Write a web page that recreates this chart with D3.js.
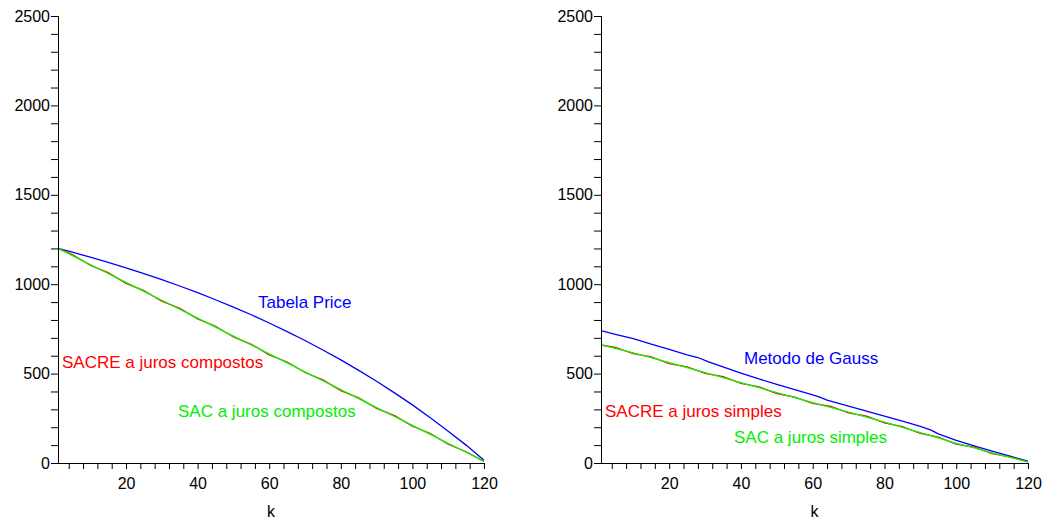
<!DOCTYPE html>
<meta charset="utf-8">
<script src="https://d3js.org/d3.v7.min.js"></script>
<style>
  body { margin: 0; background: #fff; }
  text { font-family: "Liberation Sans", Arial, sans-serif; }
</style>
<body>
<svg id="chart" width="1042" height="521"></svg>
<script>
  // k values where the curves were read
  var kSteps = [1,5,10,15,20,25,30,35,40,45,50,55,60,65,70,75,80,85,90,95,100,105,110,115,120];

  // left panel: juros compostos
  var priceL  = [1200,1179,1151,1122,1091,1059,1026,990,953,913,872,829,783,735,685,632,577,518,457,392,325,253,178,100,16];
  var sacL    = [1200,1160,1110,1060,1010,960,910,860,810,760,710,660,610,560,510,460,410,360,310,260,210,160,110,60,9];
  var sacreL  = [1200,1165,1106,1065,1005,964,905,865,806,765,705,664,605,565,506,465,405,364,305,265,206,165,105,63,9];

  // right panel: juros simples
  var kGauss  = [1,5,10,15,20,25,28,31,35,40,45,50,55,60,62,64,70,75,80,85,90,93,95,100,105,110,115,120];
  var gaussR  = [741,720,695,665,635,605,590,566,537,503,470,440,410,381,368,352,318,290,262,234,205,184,163,127,96,67,38,10];
  var sacR    = [660,641,616,589,561,534,506,478,449,421,393,365,338,311,284,257,229,199,170,140,110,84,57,31,6];
  var sacreR  = [660,646,612,594,556,538,501,483,445,426,388,369,333,316,280,262,224,203,165,145,106,89,52,34,6];

  var yTicks = d3.range(0, 2501, 100);
  var xTicks = d3.range(4, 121, 4);

  var svg = d3.select("#chart");

  function zip(ks, vs) {
    return ks.map(function(k, i) { return [k, vs[i]]; });
  }

  function panel(x0, x1, series, labels) {
    var x = d3.scaleLinear().domain([1, 120]).range([x0, x1]);
    var y = d3.scaleLinear().domain([0, 2500]).range([463, 16]);
    var g = svg.append("g");

    var line = d3.line()
      .x(function(d) { return x(d[0]); })
      .y(function(d) { return y(d[1]); });

    series.forEach(function(s) {
      g.append("path")
        .attr("d", line(s.data))
        .attr("fill", "none")
        .attr("stroke", s.color)
        .attr("stroke-width", 1.3);
    });

    var xAxis = g.append("g")
      .attr("transform", "translate(0,463)")
      .call(d3.axisBottom(x).tickValues(xTicks).tickSize(6).tickPadding(9)
        .tickFormat(function(d) { return d % 20 == 0 ? d : ""; }));
    xAxis.select(".domain").attr("d", "M" + x0 + ",0.5H" + x1);

    var yAxis = g.append("g")
      .attr("transform", "translate(" + x0 + ",0)")
      .call(d3.axisLeft(y).tickValues(yTicks).tickSize(7).tickPadding(1)
        .tickFormat(function(d) { return d % 500 == 0 ? d : ""; }));
    yAxis.select(".domain").attr("d", "M0.5,463V16");

    g.selectAll(".tick text").attr("font-size", 16).attr("fill", "#000")
      .attr("font-family", "Liberation Sans, Arial, sans-serif");

    g.append("text")
      .attr("x", (x0 + x1) / 2)
      .attr("y", 517)
      .attr("text-anchor", "middle")
      .attr("font-size", 16)
      .text("k");

    labels.forEach(function(l) {
      g.append("text")
        .attr("x", l.x)
        .attr("y", l.y)
        .attr("font-size", 17)
        .attr("fill", l.color)
        .text(l.text);
    });
  }

  panel(58, 484, [
    { data: zip(kSteps, priceL), color: "#0000ff" },
    { data: zip(kSteps, sacreL), color: "#ff0000" },
    { data: zip(kSteps, sacL), color: "#00ff00" }
  ], [
    { text: "Tabela Price", x: 258, y: 308, color: "#0000ff" },
    { text: "SACRE a juros compostos", x: 62, y: 368, color: "#ff0000" },
    { text: "SAC a juros compostos", x: 178, y: 417, color: "#00ee00" }
  ]);

  panel(601, 1028, [
    { data: zip(kGauss, gaussR), color: "#0000ff" },
    { data: zip(kSteps, sacreR), color: "#ff0000" },
    { data: zip(kSteps, sacR), color: "#00ff00" }
  ], [
    { text: "Metodo de Gauss", x: 744, y: 364, color: "#0000ff" },
    { text: "SACRE a juros simples", x: 605, y: 417, color: "#ff0000" },
    { text: "SAC a juros simples", x: 734, y: 443, color: "#00ee00" }
  ]);
</script>
</body>
